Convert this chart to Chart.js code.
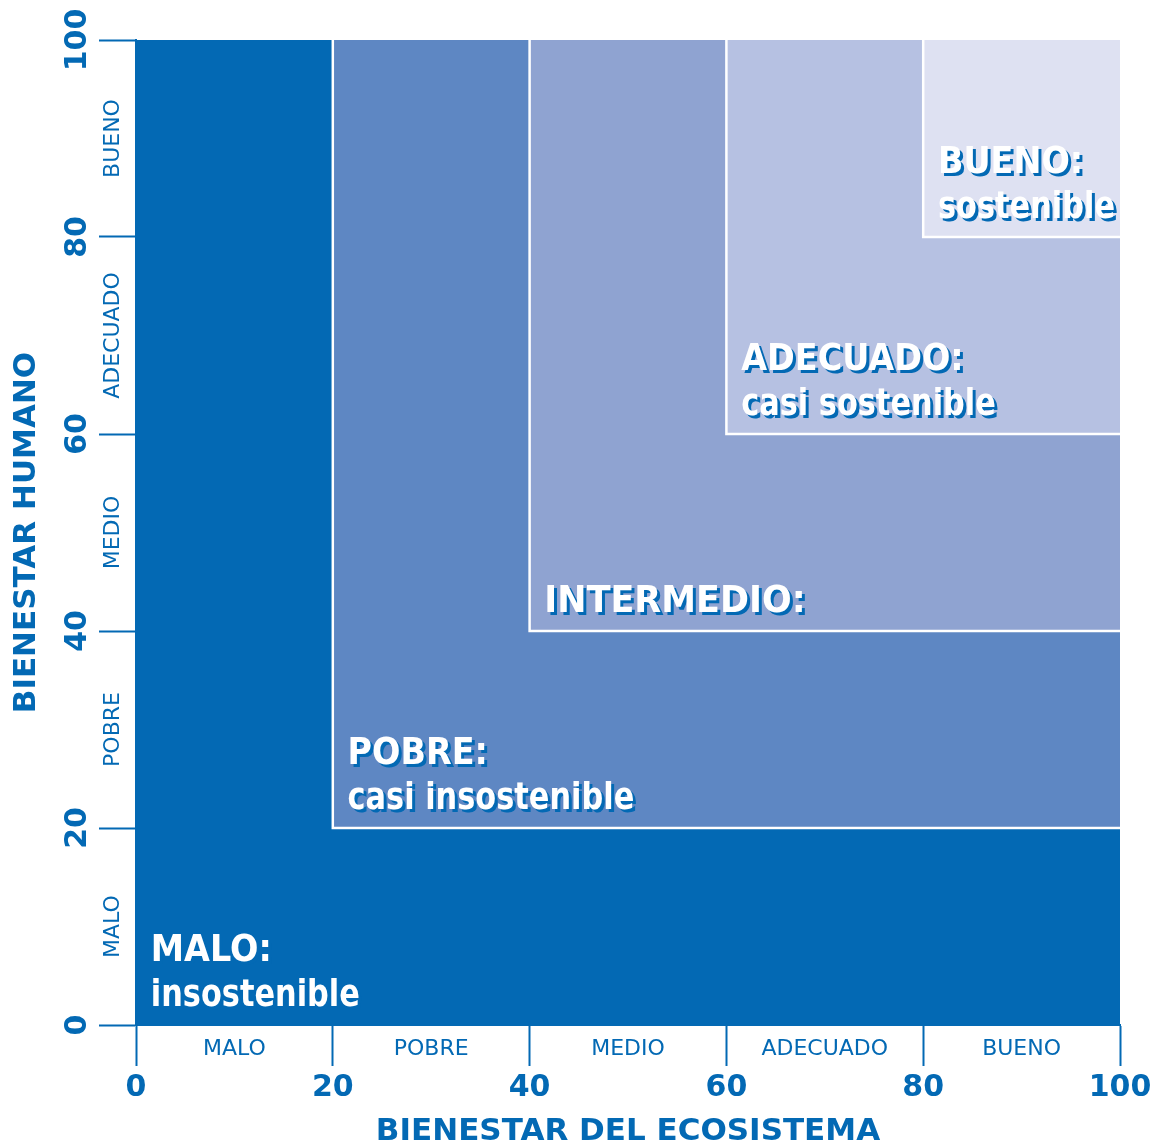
<!DOCTYPE html>
<html>
<head>
<meta charset="utf-8">
<script src="https://cdn.jsdelivr.net/npm/chart.js@4.4.1/dist/chart.umd.min.js"></script>
<style>
  html, body { margin: 0; padding: 0; background: #fff; }
  #wrap { width: 1163px; height: 1147px; }
</style>
</head>
<body>
<div id="wrap"><canvas id="matrix"></canvas></div>
<script>
// lower-left corner of each nested region (same value on both axes)
const levels = [0, 20, 40, 60, 80];
const categories = ['MALO', 'POBRE', 'MEDIO', 'ADECUADO', 'BUENO'];
const regionTitles = ['MALO:', 'POBRE:', 'INTERMEDIO:', 'ADECUADO:', 'BUENO:'];
const regionSubtitles = ['insostenible', 'casi insostenible', '', 'casi sostenible', 'sostenible'];
const tickValues = [0, 20, 40, 60, 80, 100];
const axisMax = 100;

const fillColors = ['#0369b4', '#5e87c3', '#8fa3d1', '#b6c1e2', '#dee1f2'];
const blue = '#0369b4';
const labelFont = '"DejaVu Sans", sans-serif';

let datasets = [];
levels.forEach((lv, i) => {
    datasets.push({
        data: [{x: lv, y: axisMax}, {x: axisMax, y: axisMax}],
        fill: {value: lv},
        backgroundColor: fillColors[i],
        borderWidth: 0,
        pointRadius: 0,
        order: 20 - i * 2
    });
    if (lv > 0) {
        // white edge on the left and bottom of the inner boxes
        datasets.push({
            data: [{x: lv, y: axisMax}, {x: lv, y: lv}, {x: axisMax, y: lv}],
            fill: false,
            borderColor: '#ffffff',
            borderWidth: 2.5,
            pointRadius: 0,
            order: 19 - i * 2
        });
    }
});

// narrow, tall text like the comic lettering of the original
function squeezedText(ctx, text, px, py, sx) {
    ctx.save();
    ctx.translate(px, py);
    ctx.scale(sx, 1);
    ctx.fillText(text, 0, 0);
    ctx.restore();
}

const labelsPlugin = {
    id: 'labels',
    afterDatasetsDraw(chart) {
        const ctx = chart.ctx;
        const x = chart.scales.x, y = chart.scales.y;
        ctx.save();
        ctx.font = 'bold 38px ' + labelFont;
        ctx.textAlign = 'left';
        ctx.textBaseline = 'alphabetic';
        ctx.fillStyle = '#ffffff';
        ctx.shadowColor = blue;
        ctx.shadowOffsetX = 3;
        ctx.shadowOffsetY = 3;
        ctx.shadowBlur = 0;
        levels.forEach((lv, i) => {
            const px = x.getPixelForValue(lv + 1.5);
            if (regionSubtitles[i]) {
                squeezedText(ctx, regionTitles[i], px, y.getPixelForValue(lv + 6.5), 0.88);
                squeezedText(ctx, regionSubtitles[i], px, y.getPixelForValue(lv + 1.9), 0.8);
            } else {
                squeezedText(ctx, regionTitles[i], px, y.getPixelForValue(lv + 1.9), 0.92);
            }
        });
        ctx.restore();
    },
    afterDraw(chart) {
        const ctx = chart.ctx;
        const x = chart.scales.x, y = chart.scales.y;
        ctx.save();
        ctx.fillStyle = blue;
        ctx.textAlign = 'center';
        ctx.textBaseline = 'middle';
        // category names between ticks
        ctx.font = '22px ' + labelFont;
        levels.forEach((lv, i) => {
            ctx.fillText(categories[i], x.getPixelForValue(lv + 10), 1049);
            ctx.save();
            ctx.translate(113, y.getPixelForValue(lv + 10));
            ctx.rotate(-Math.PI / 2);
            ctx.fillText(categories[i], 0, 0);
            ctx.restore();
        });
        // rotated y tick numbers
        ctx.font = 'bold 30px ' + labelFont;
        tickValues.forEach(v => {
            ctx.save();
            ctx.translate(78, y.getPixelForValue(v));
            ctx.rotate(-Math.PI / 2);
            ctx.fillText(String(v), 0, 0);
            ctx.restore();
        });
        ctx.restore();
    }
};

new Chart(document.getElementById('matrix'), {
    type: 'line',
    data: { datasets: datasets },
    plugins: [labelsPlugin],
    options: {
        responsive: true,
        maintainAspectRatio: false,
        animation: false,
        layout: { padding: { top: 40, right: 43, left: 0, bottom: 0 } },
        plugins: { legend: { display: false }, tooltip: { enabled: false } },
        scales: {
            x: {
                type: 'linear',
                min: 0,
                max: axisMax,
                afterBuildTicks: s => { s.ticks = tickValues.map(v => ({value: v})); },
                afterFit: s => { s.height = 122; },
                border: { display: true, color: blue, width: 2 },
                grid: { drawOnChartArea: false, drawTicks: true, tickLength: 41, tickColor: blue, tickWidth: 2 },
                ticks: { color: blue, font: { family: labelFont, size: 30, weight: 'bold' }, padding: 4, maxRotation: 0 },
                title: {
                    display: true,
                    text: 'BIENESTAR DEL ECOSISTEMA',
                    color: blue,
                    font: { family: labelFont, size: 31, weight: 'bold', lineHeight: 1 },
                    padding: { top: 0, bottom: 0 }
                }
            },
            y: {
                type: 'linear',
                min: 0,
                max: axisMax,
                afterBuildTicks: s => { s.ticks = tickValues.map(v => ({value: v})); },
                afterFit: s => { s.width = 136; },
                border: { display: true, color: blue, width: 2 },
                grid: { drawOnChartArea: false, drawTicks: true, tickLength: 37, tickColor: blue, tickWidth: 2 },
                ticks: { display: false },
                title: {
                    display: true,
                    text: 'BIENESTAR HUMANO',
                    color: blue,
                    font: { family: labelFont, size: 31, weight: 'bold', lineHeight: 1 },
                    padding: { top: 11, bottom: 0 }
                }
            }
        }
    }
});
</script>
</body>
</html>
